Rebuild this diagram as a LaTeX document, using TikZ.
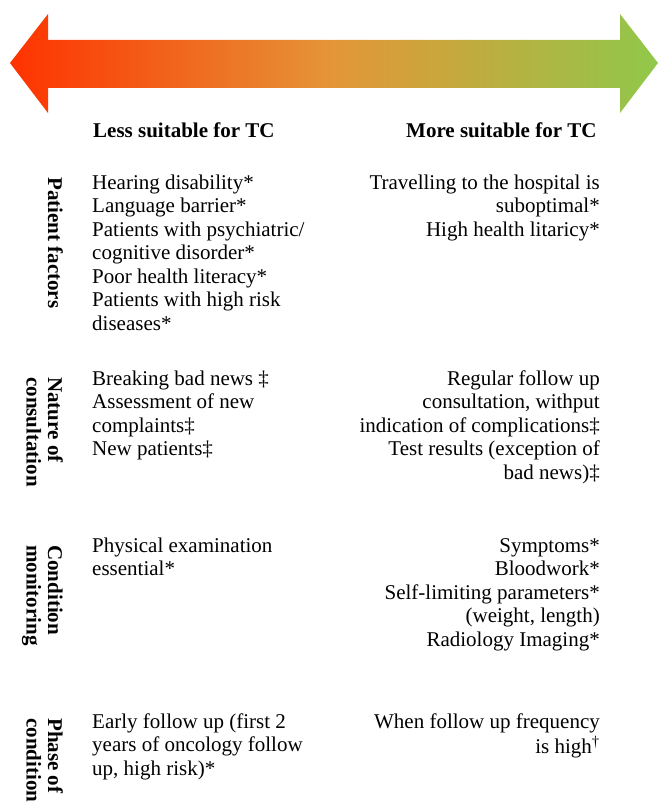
\documentclass[tikz,border=0pt]{standalone}
\usepackage{fontspec}
\setmainfont{Liberation Serif}
\definecolor{arrred}{RGB}{255,50,0}
\definecolor{arrmid}{RGB}{228,150,55}
\definecolor{arrgreen}{RGB}{144,200,74}
\tikzset{
  lefttext/.style={anchor=north west, align=left, inner sep=0pt, font=\fontsize{21}{23.5}\selectfont},
  righttext/.style={anchor=north east, align=right, inner sep=0pt, font=\fontsize{21}{23.5}\selectfont},
  cat/.style={rotate=-90, anchor=north west, align=left, inner sep=0pt, font=\bfseries\fontsize{21}{21.5}\selectfont},
  heading/.style={anchor=base west, inner sep=0pt, font=\bfseries\fontsize{21}{24}\selectfont}
}
\begin{document}
\begin{tikzpicture}[x=1pt,y=-1pt]
\path[use as bounding box] (0,0) rectangle (659,802);
% double arrow
\shade[left color=arrred, right color=arrgreen, middle color=arrmid]
  (10,63) -- (48,14) -- (48,40) -- (620,40) -- (620,14) -- (658,63)
  -- (620,113) -- (620,88) -- (48,88) -- (48,113) -- cycle;
% headings
\node[heading] (hl) at (93,138) {Less suitable for TC};
\node[heading] (hr) at (406,138) {More suitable for TC};
% category labels
\node[cat] (c1) at (63,177) {Patient factors};
\node[cat] (c2) at (63,377) {Nature of\\consultation};
\node[cat] (c3) at (63,545) {Condition\\monitoring};
\node[cat] (c4) at (63,718) {Phase of\\condition};
% left column (top = first baseline - 16.45)
\node[lefttext] (l1) at (92,172.5) {\strut Hearing disability*\\Language barrier*\\Patients with psychiatric/\\cognitive disorder*\\Poor health literacy*\\Patients with high risk\\diseases*};
\node[lefttext] (l2) at (92,368.5) {\strut Breaking bad news ‡\\Assessment of new\\complaints‡\\New patients‡};
\node[lefttext] (l3) at (92,535.5) {\strut Physical examination\\essential*};
\node[lefttext] (l4) at (92,711.5) {\strut Early follow up (first 2\\years of oncology follow\\up, high risk)*};
% right column
\node[righttext] (r1) at (600,172.5) {\strut Travelling to the hospital is\\suboptimal*\\High health litaricy*};
\node[righttext] (r2) at (600,368.5) {\strut Regular follow up\\consultation, withput\\indication of complications‡\\Test results (exception of\\bad news)‡};
\node[righttext] (r3) at (600,535.5) {\strut Symptoms*\\Bloodwork*\\Self-limiting parameters*\\(weight, length)\\Radiology Imaging*};
\node[righttext] (r4) at (600,711.5) {\strut When follow up frequency\\is high\textsuperscript{†}};
\end{tikzpicture}
\end{document}
